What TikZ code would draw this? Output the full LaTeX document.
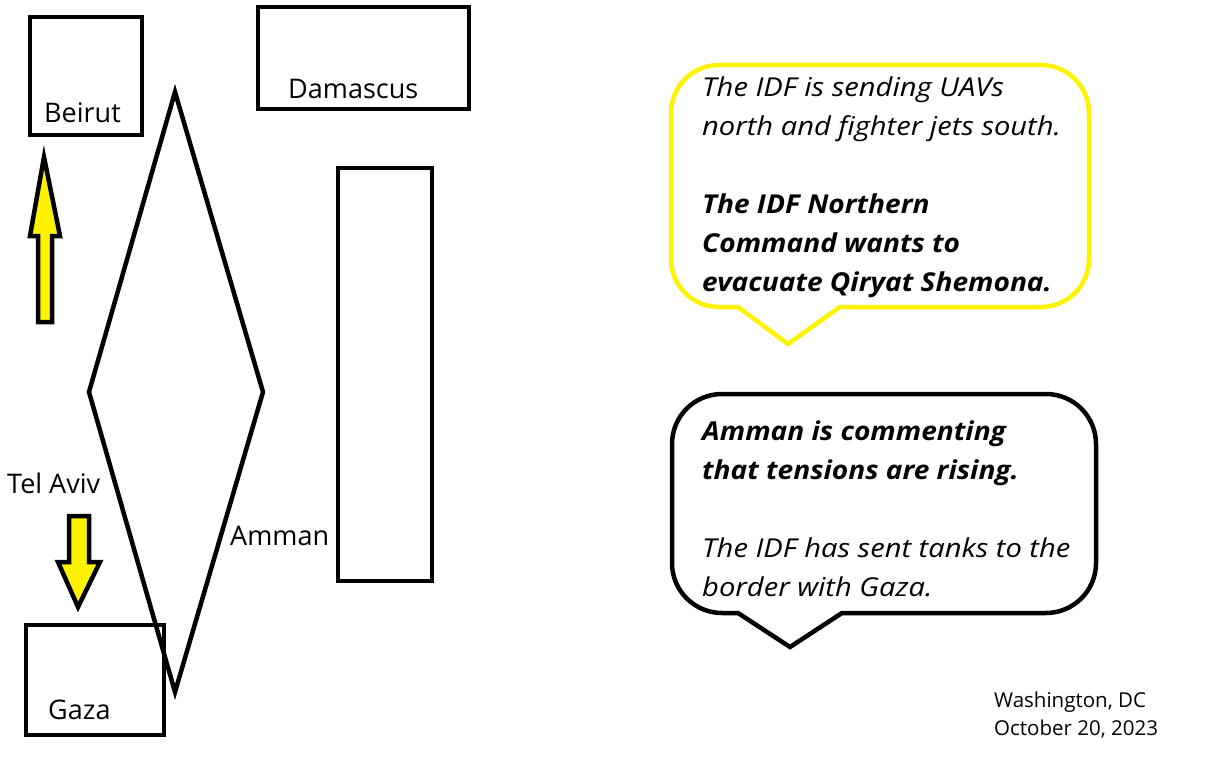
\documentclass[tikz,border=0pt]{standalone}
\usepackage{fontspec}
\setmainfont{Open Sans}
\newfontfamily\bubit{Open Sans}[FakeStretch=1.12]
\newfontfamily\bubbf{Open Sans}[FakeStretch=1.08]
\definecolor{pyellow}{RGB}{255,242,0}
\begin{document}
\begin{tikzpicture}[x=1pt,y=-1pt,
  box/.style={draw=black,line width=4.5pt},
  lbl/.style={anchor=base west,inner sep=0pt,font=\fontsize{27}{30}\selectfont},
  yarrow/.style={draw=black,fill=pyellow,line width=4.5pt,miter limit=10},
  bubtext/.style={anchor=base west,inner sep=0pt,font=\fontsize{26}{39}\selectfont},
  datetext/.style={anchor=base west,inner sep=0pt,font=\fontsize{20.5}{28}\selectfont}]
\useasboundingbox (0,0) rectangle (1207,760);
\fill[white] (0,0) rectangle (1207,760);
% boxes
\draw[box] (30,17) rectangle (142,135);
\node[lbl] (beirut) at (44,122) {Beirut};
\draw[box] (258,7) rectangle (469,109);
\node[lbl] (damascus) at (288,99) {Damascus};
\draw[box] (338,168) rectangle (432,581);
\draw[box] (26,625) rectangle (164,735);
\node[lbl] (gaza) at (48,719) {Gaza};
% diamond
\draw[box,line join=miter] (175,92) -- (263,392) -- (175,692) -- (89,392) -- cycle;
\node[lbl] (telaviv) at (7,493) {Tel Aviv};
\node[lbl] (amman) at (230,545) {Amman};
% arrows
\draw[yarrow] (44,157) -- (60,236) -- (52,236) -- (52,322) -- (38,322) -- (38,236) -- (30,236) -- cycle;
\draw[yarrow] (69,516) -- (89,516) -- (89,562) -- (100,562) -- (78,607) -- (58,562) -- (69,562) -- cycle;
% yellow bubble
\draw[draw=pyellow,line width=4.5pt,line join=round]
  (788,344) -- (738,307) [rounded corners=48pt] -- (671,307) -- (671,65) -- (1089,65) -- (1089,307) [sharp corners]-- (840,307) -- cycle;
\node[bubtext] (ytext) at (702,96) {\parbox[t]{420pt}{\raggedright
{\bubit\itshape The IDF is sending UAVs}\\
{\bubit\itshape north and fighter jets south.}\\
\mbox{}\\
{\bubbf\bfseries\itshape The IDF Northern}\\
{\bubbf\bfseries\itshape Command wants to}\\
{\bubbf\bfseries\itshape evacuate Qiryat Shemona.}}};
% black bubble
\draw[draw=black,line width=4.5pt,line join=miter]
  (790,647) -- (738,613) [rounded corners=50pt] -- (672,613) -- (672,394) -- (1096,394) -- (1096,613) [sharp corners]-- (842,613) -- cycle;
\node[bubtext] (btext) at (702,440) {\parbox[t]{420pt}{\raggedright
{\bubbf\bfseries\itshape Amman is commenting}\\
{\bubbf\bfseries\itshape that tensions are rising.}\\
\mbox{}\\
{\bubit\itshape The IDF has sent tanks to the}\\
{\bubit\itshape border with Gaza.}}};
% date
\node[datetext] (place) at (994,707) {\parbox[t]{220pt}{\raggedright Washington, DC\\ October 20, 2023}};
\end{tikzpicture}
\end{document}
